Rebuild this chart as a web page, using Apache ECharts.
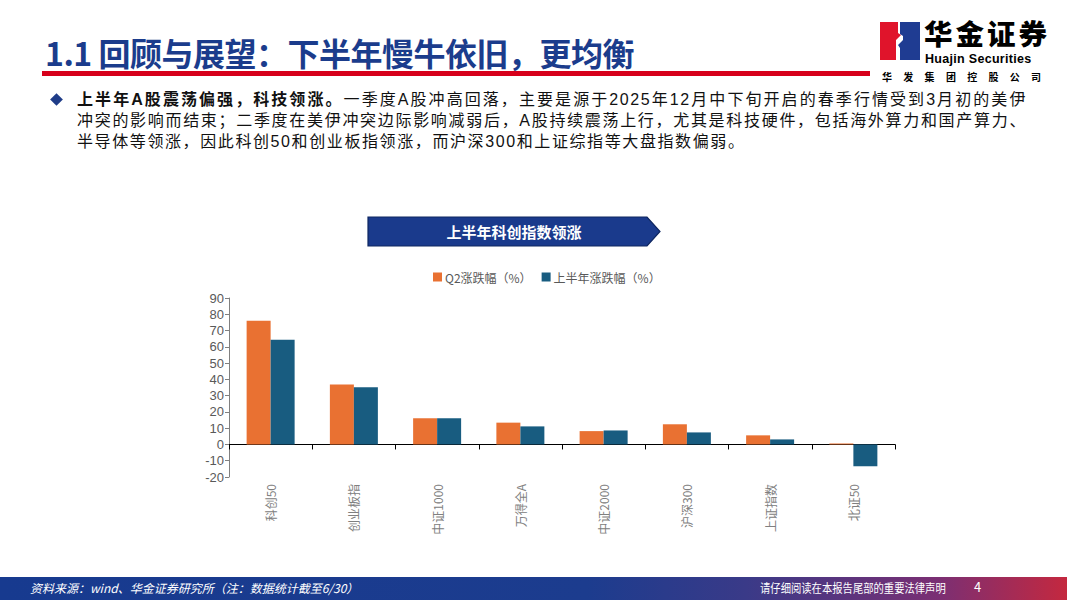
<!DOCTYPE html>
<html>
<head>
<meta charset="utf-8">
<script src="https://cdn.jsdelivr.net/npm/echarts@6/dist/echarts.min.js"></script>
<style>
  html,body{margin:0;padding:0;background:#fff;}
  body{width:1067px;height:600px;position:relative;overflow:hidden;font-family:"Noto Sans CJK SC","Noto Sans",sans-serif;}
  #chart{position:absolute;left:0;top:0;width:1067px;height:600px;}
  .abs{position:absolute;white-space:nowrap;}
  #title{left:45px;top:30px;font-size:32px;font-weight:bold;color:#1B3C8C;line-height:44px;letter-spacing:-0.5px;}
  #redline{left:42px;top:71px;width:828px;height:5px;background:#D7001B;}
  #diamond{left:52px;top:95px;width:9px;height:9px;background:#1F3C88;transform:rotate(45deg);}
  .line{position:absolute;left:77px;font-family:"Liberation Sans","Noto Sans CJK SC",sans-serif;font-size:16px;line-height:21px;color:#111;letter-spacing:1.6px;white-space:nowrap;}
  .just{width:950px;text-align:justify;text-align-last:justify;}
  #footer{left:0;top:577px;width:1067px;height:23px;background:linear-gradient(90deg,#173A8F 0%,#1C3C8E 55%,#3A3A88 70%,#7B2F73 88%,#C4283F 100%);}
  #src{left:30px;top:580px;font-size:12px;font-style:italic;color:#fff;line-height:16px;}
  #legal{left:760px;top:580px;font-size:12px;color:#fff;line-height:16px;transform:scaleX(0.86);transform-origin:0 0;}
  #page{left:974px;top:579px;font-size:13px;color:#fff;line-height:16px;}
  #logo1{left:924px;top:20px;font-family:"Liberation Sans","Noto Sans CJK SC",sans-serif;font-size:28.5px;font-weight:900;color:#000;line-height:31px;letter-spacing:3px;}
  #logo2{left:925px;top:52px;font-family:"Liberation Sans","DejaVu Sans",sans-serif;font-size:12.5px;font-weight:bold;color:#000;line-height:14px;letter-spacing:0.3px;}
  #logo3{left:882px;top:71px;font-size:10px;font-weight:bold;color:#000;line-height:12px;letter-spacing:11.3px;}
</style>
</head>
<body>
<div id="chart"></div>
<div class="abs" id="title">1.1 回顾与展望：下半年慢牛依旧，更均衡</div>
<div class="abs" id="redline"></div>
<svg class="abs" style="left:0;top:0" width="1067" height="70">
  <polygon points="880,22 898,22 898,33 901,35 896,40 896,60 880,60" fill="#E0142B"/>
  <polygon points="900,22 920,22 920,60 900,60 900,48 898,45 903,40 903,36 900,34" fill="#1F3C92"/>
</svg>
<div class="abs" id="logo1">华金证券</div>
<div class="abs" id="logo2">Huajin Securities</div>
<div class="abs" id="logo3">华发集团控股公司</div>
<div class="abs" id="diamond"></div>
<div class="line just" style="top:89px;"><b>上半年A股震荡偏强，科技领涨。</b>一季度A股冲高回落，主要是源于2025年12月中下旬开启的春季行情受到3月初的美伊</div>
<div class="line just" style="top:110px;">冲突的影响而结束；二季度在美伊冲突边际影响减弱后，A股持续震荡上行，尤其是科技硬件，包括海外算力和国产算力、</div>
<div class="line" style="top:131px;">半导体等领涨，因此科创50和创业板指领涨，而沪深300和上证综指等大盘指数偏弱。</div>
<div class="abs" id="footer"></div>
<div class="abs" id="src">资料来源：wind、华金证券研究所（注：数据统计截至6/30）</div>
<div class="abs" id="legal">请仔细阅读在本报告尾部的重要法律声明</div>
<div class="abs" id="page">4</div>
<script>
const categories = ['科创50','创业板指','中证1000','万得全A','中证2000','沪深300','上证指数','北证50'];
const q2Change = [76.0, 36.9, 16.1, 13.4, 8.2, 12.4, 5.6, 0.6];
const h1Change = [64.3, 35.2, 16.1, 11.1, 8.6, 7.4, 3.1, -13.4];
const seriesNames = ['Q2涨跌幅（%）','上半年涨跌幅（%）'];
const bannerText = '上半年科创指数领涨';

const chart = echarts.init(document.getElementById('chart'), null, {renderer:'svg'});
chart.setOption({
  animation:false,
  backgroundColor:'transparent',
  textStyle:{fontFamily:'"Noto Sans CJK SC","Noto Sans",sans-serif'},
  graphic:[
    {type:'polygon', shape:{points:[[368,217],[647,217],[660,231.5],[647,246],[368,246]]},
     style:{fill:'#1A3A8C', stroke:'#0E2660', lineWidth:1.2}},
    {type:'text', style:{text:bannerText, x:514, y:231.5, fill:'#fff', font:'bold 15px "Noto Sans CJK SC"', align:'center', verticalAlign:'middle'}}
  ],
  legend:{
    left:428, top:266, itemWidth:9, itemHeight:9, itemGap:10,
    icon:'rect',
    textStyle:{color:'#595959', fontSize:12, padding:[0,0,0,-2]},
    data:seriesNames
  },
  grid:{left:229, right:172, top:298, bottom:123},
  xAxis:[
    {type:'category', data:categories,
     axisLine:{onZero:true, lineStyle:{color:'#000', width:1.2}},
     axisTick:{show:true, length:5, lineStyle:{color:'#000'}},
     axisLabel:{show:false}},
    {type:'category', data:categories, position:'bottom',
     axisLine:{show:false, onZero:false}, axisTick:{show:false},
     axisLabel:{rotate:90, margin:7, color:'#808080', fontSize:12}}
  ],
  yAxis:{
    type:'value', min:-20, max:90, interval:10,
    axisLine:{show:true, lineStyle:{color:'#808080'}},
    axisTick:{show:true, length:4, lineStyle:{color:'#808080'}},
    splitLine:{show:false},
    axisLabel:{color:'#595959', fontSize:13, fontFamily:'"Liberation Sans", Arial, sans-serif', lineHeight:13, margin:5}
  },
  series:[
    {name:seriesNames[0], type:'bar', xAxisIndex:0, data:q2Change, barWidth:24, barGap:'0%', itemStyle:{color:'#E97132'}},
    {name:seriesNames[1], type:'bar', xAxisIndex:0, data:h1Change, barWidth:24, barGap:'0%', itemStyle:{color:'#185C80'}}
  ]
});
</script>
</body>
</html>
